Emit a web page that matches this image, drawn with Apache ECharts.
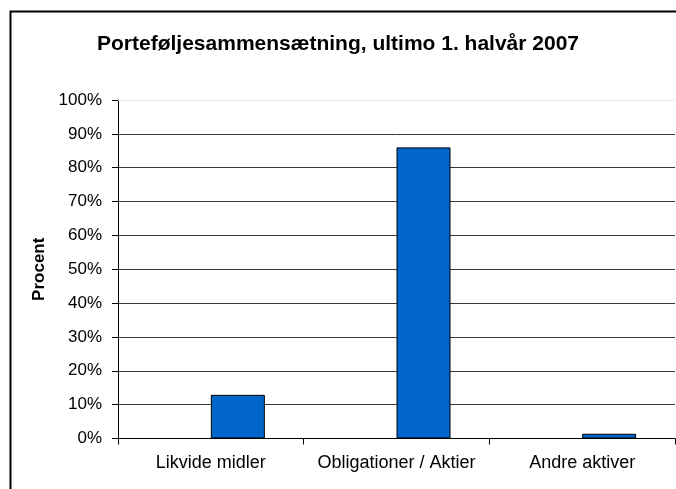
<!DOCTYPE html>
<html>
<head>
<meta charset="utf-8">
<script src="https://cdn.jsdelivr.net/npm/echarts@6/dist/echarts.min.js"></script>
<style>
html,body{margin:0;padding:0;background:#fff;}
#chart{width:676px;height:489px;}
</style>
</head>
<body>
<div id="chart"></div>
<script>
var titleText = 'Porteføljesammensætning, ultimo 1. halvår 2007';
var categories = ['Likvide midler', 'Obligationer / Aktier', 'Andre aktiver'];
var placeholderValues = [null, null, null];
var shareValues = [12.9, 86.0, 1.4];
var yAxisName = 'Procent';

var chart = echarts.init(document.getElementById('chart'), null, {renderer: 'canvas'});
var font = 'Liberation Sans, Arial, sans-serif';
chart.setOption({
  animation: false,
  backgroundColor: '#fff',
  title: {
    text: titleText,
    left: 333, top: 29, textAlign: 'center',
    textStyle: {fontFamily: font, fontSize: 21, fontWeight: 'bold', color: '#000'}
  },
  graphic: [{
    type: 'rect', left: 8, top: 9, silent: true,
    shape: {width: 700, height: 500},
    style: {fill: null, stroke: '#000', lineWidth: 2}
  }],
  grid: {left: 118, right: 1, top: 100, bottom: 50.5, containLabel: false},
  xAxis: [{
    type: 'category', data: categories, boundaryGap: true,
    axisLine: {lineStyle: {color: '#000', width: 1}},
    axisTick: {show: true, interval: 0, length: 6, inside: false, lineStyle: {color: '#000'}},
    axisLabel: {interval: 0, margin: 16, fontFamily: font, fontSize: 18, color: '#000'},
    splitLine: {show: false}
  }, {
    type: 'category', data: categories, position: 'top',
    axisLine: {show: true, lineStyle: {color: '#e6e6e6', width: 1}},
    axisTick: {show: false}, axisLabel: {show: false}, splitLine: {show: false}
  }],
  yAxis: {
    type: 'value', min: 0, max: 100, interval: 10,
    name: yAxisName, nameLocation: 'middle', nameGap: 70, nameRotate: 90,
    nameTextStyle: {fontFamily: font, fontSize: 17, fontWeight: 'bold', color: '#000'},
    axisLine: {show: true, lineStyle: {color: '#000', width: 1}},
    axisTick: {show: true, length: 6, lineStyle: {color: '#000'}},
    axisLabel: {margin: 16, fontFamily: font, fontSize: 17, color: '#000', formatter: '{value}%'},
    splitLine: {show: true, showMaxLine: false, lineStyle: {color: '#3a3a3a', width: 1}}
  },
  series: [{
    type: 'bar', data: placeholderValues, barWidth: 54, barGap: '0%',
    itemStyle: {color: '#9999ff'}
  }, {
    type: 'bar', data: shareValues, barWidth: 54, barGap: '0%',
    itemStyle: {color: '#0066cc', borderColor: '#000', borderWidth: 1}
  }]
});
</script>
</body>
</html>
